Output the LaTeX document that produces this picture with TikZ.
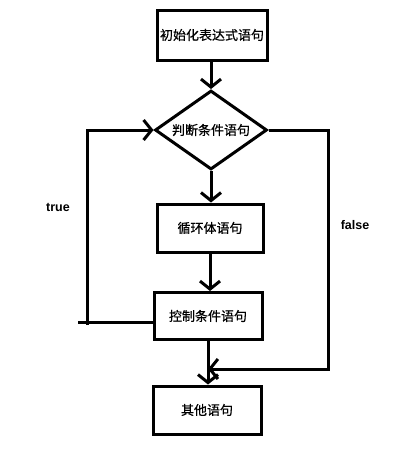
\documentclass[tikz,border=0pt]{standalone}
\usepackage{fontspec}
\setmainfont{Liberation Sans}
\newfontfamily\cjk[FakeBold=0.6]{Noto Sans CJK SC}
\usetikzlibrary{shapes.geometric,arrows.meta}
\begin{document}
\begin{tikzpicture}[x=1pt,y=-1pt,
  every path/.style={line width=3pt},
  box/.style={draw,line width=3pt,inner sep=0pt,font=\cjk\fontsize{13}{15}\selectfont},
  dia/.style={draw,diamond,line width=3pt,inner sep=0pt,shape aspect=1.42,minimum width=112pt,minimum height=79pt,font=\cjk\fontsize{13}{15}\selectfont},
  arr/.style={-{Straight Barb[length=8pt,width=20pt,line width=3pt]}},
  lbl/.style={font=\bfseries\fontsize{12.5}{14}\selectfont}]
\useasboundingbox[fill=white] (0,0) rectangle (414,456);
\node[box,minimum width=110pt,minimum height=50pt] (b1) at (212,35) {初始化表达式语句};
\node[dia] (d) at (211,130) {判断条件语句};
\node[box,minimum width=106pt,minimum height=48pt] (b2) at (210,228) {循环体语句};
\node[box,minimum width=108pt,minimum height=47pt] (b3) at (208,316) {控制条件语句};
\node[box,minimum width=108pt,minimum height=48pt] (b4) at (207,410) {其他语句};
\node[lbl] (t) at (58,207) {true};
\node[lbl] (f) at (355,225) {false};
\coordinate (tl) at (78,322);
\coordinate (bl) at (87,325);
\coordinate (fr) at (328,369);
\coordinate (j) at (208,369);
\draw[arr] (d.north |- b1.south) -- (d.north);
\draw[arr] (d.south) -- (d.south |- b2.north);
\draw[arr] (b2.south) -- (b2.south |- b3.north);
\draw[arr] (b3.south) -- (b3.south |- b4.north);
\draw (b3.west |- tl) -- (tl);
\draw[arr] (bl) |- (d.west);
\draw[arr] (d.east) -| (fr) -- (j);
\end{tikzpicture}
\end{document}
